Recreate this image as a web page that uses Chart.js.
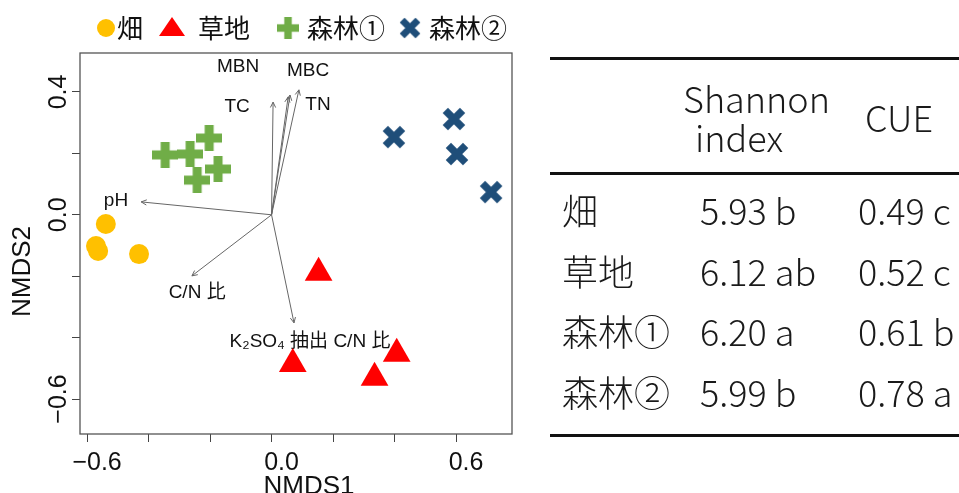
<!DOCTYPE html>
<html>
<head>
<meta charset="utf-8">
<script src="https://cdn.jsdelivr.net/npm/chart.js@4.4.1/dist/chart.umd.min.js"></script>
<style>
  html, body { margin: 0; padding: 0; background: #fff; width: 959px; height: 493px; overflow: hidden; }
  #wrap { position: absolute; left: 0; top: 0; width: 540px; height: 493px; }
  #tbl { position: absolute; left: 0; top: 0; width: 959px; height: 493px; pointer-events: none;
         font-family: "Noto Sans CJK JP", "Noto Sans", sans-serif; font-size: 36px; font-weight: 300; color: #1a1a1a; }
  .rule { position: absolute; left: 550px; width: 420px; height: 3px; background: #111; }
  .t { position: absolute; white-space: nowrap; line-height: 40px; height: 40px; }
</style>
</head>
<body>
<div id="wrap"><canvas id="nmds"></canvas></div>
<div id="tbl">
  <div class="rule" style="top:57px"></div>
  <div class="rule" style="top:172px"></div>
  <div class="rule" style="top:434px"></div>
</div>
<script>
// groups (legend / table rows)
const groups = ["畑", "草地", "森林①", "森林②"];

// NMDS site scores
const fieldX = [-0.539, -0.571, -0.564, -0.431];
const fieldY = [-0.030, -0.102, -0.118, -0.128];
const grassX = [0.153, 0.069, 0.335, 0.407];
const grassY = [-0.189, -0.486, -0.531, -0.453];
const forest1X = [-0.346, -0.265, -0.203, -0.174, -0.242];
const forest1Y = [0.195, 0.198, 0.250, 0.149, 0.113];
const forest2X = [0.398, 0.593, 0.603, 0.714];
const forest2Y = [0.253, 0.312, 0.198, 0.074];

// environmental vectors (arrow tips) and where their labels sit
const vecNames = ["pH", "TC", "MBN", "MBC", "TN", "C/N 比", "K₂SO₄ 抽出 C/N 比"];
const vecX = [-0.424, 0.005, 0.054, 0.060, 0.089, -0.259, 0.073];
const vecY = [0.042, 0.367, 0.384, 0.390, 0.407, -0.199, -0.352];
const labX = [-0.506, -0.112, -0.109, 0.119, 0.151, -0.242, 0.125];
const labY = [0.045, 0.351, 0.481, 0.468, 0.358, -0.255, -0.414];

// axis ticks
const xTicks = [-0.6, -0.4, -0.2, 0, 0.2, 0.4, 0.6];
const xLabeled = [-0.6, 0, 0.6];
const yTicks = [-0.6, -0.4, -0.2, 0, 0.2, 0.4];
const yLabeled = [-0.6, 0, 0.4];

// table
const shannonVal = [5.93, 6.12, 6.20, 5.99];
const shannonSig = ["b", "ab", "a", "b"];
const cueVal = [0.49, 0.52, 0.61, 0.78];
const cueSig = ["c", "c", "b", "a"];

const colors = ["#FFC000", "#FF0000", "#70AD47", "#1F4E79"];

function makePlus(size, thick, color) {
  const c = document.createElement("canvas");
  c.width = size; c.height = size;
  const g = c.getContext("2d");
  g.fillStyle = color;
  const o = (size - thick) / 2;
  g.fillRect(o, 0, thick, size);
  g.fillRect(0, o, size, thick);
  return c;
}

function makeCross(size, thick, color) {
  const c = document.createElement("canvas");
  c.width = size; c.height = size;
  const g = c.getContext("2d");
  g.strokeStyle = color;
  g.lineWidth = thick;
  const m = thick * 0.45;
  g.beginPath();
  g.moveTo(m, m); g.lineTo(size - m, size - m);
  g.moveTo(size - m, m); g.lineTo(m, size - m);
  g.stroke();
  return c;
}

const plusImg = makePlus(26, 9, colors[2]);
const crossImg = makeCross(24, 7.5, colors[3]);

const toPts = (xs, ys) => xs.map((x, i) => ({ x: x, y: ys[i] }));
const fmt = (v) => (v < 0 ? "\u2212" : "") + Math.abs(v).toFixed(1);

const decor = {
  id: "decor",
  beforeDatasetsDraw(chart) {
    const { ctx, chartArea: a, scales: { x, y } } = chart;
    ctx.save();
    ctx.strokeStyle = "#555";
    ctx.lineWidth = 1.3;
    ctx.strokeRect(a.left, a.top, a.right - a.left, a.bottom - a.top);

    // arrows
    const ox = x.getPixelForValue(0), oy = y.getPixelForValue(0);
    ctx.strokeStyle = "#666";
    ctx.lineWidth = 1;
    ctx.font = "19px 'Liberation Sans', 'DejaVu Sans', 'Noto Sans CJK JP'";
    ctx.textAlign = "center";
    ctx.textBaseline = "middle";
    vecNames.forEach((name, i) => {
      const tx = x.getPixelForValue(vecX[i]), ty = y.getPixelForValue(vecY[i]);
      const ang = Math.atan2(ty - oy, tx - ox);
      ctx.beginPath();
      ctx.moveTo(ox, oy);
      ctx.lineTo(tx, ty);
      [-1, 1].forEach((s) => {
        ctx.moveTo(tx, ty);
        ctx.lineTo(tx - 6 * Math.cos(ang + s * 0.45), ty - 6 * Math.sin(ang + s * 0.45));
      });
      ctx.stroke();
      ctx.fillStyle = "#111";
      ctx.fillText(name, x.getPixelForValue(labX[i]), y.getPixelForValue(labY[i]));
    });
    ctx.restore();
  },
  afterDraw(chart) {
    const { ctx, chartArea: a } = chart;
    ctx.save();
    ctx.fillStyle = "#111";
    ctx.font = "26px 'Liberation Sans'";
    ctx.textAlign = "center";
    ctx.textBaseline = "alphabetic";
    // axis titles
    ctx.fillText("NMDS1", (a.left + a.right) / 2 + 13, 494);
    ctx.translate(23, (a.top + a.bottom) / 2 + 28);
    ctx.rotate(-Math.PI / 2);
    ctx.textBaseline = "middle";
    ctx.fillText("NMDS2", 0, 0);
    ctx.restore();

    // legend
    ctx.save();
    const ly = 28;
    const ds = chart.data.datasets;
    ctx.fillStyle = colors[0];
    Chart.helpers.drawPoint(ctx, { pointStyle: "circle", radius: 9, rotation: 0, borderWidth: 0 }, 106, ly);
    ctx.fillStyle = colors[1];
    ctx.beginPath();
    ctx.moveTo(172, 17); ctx.lineTo(185, 36); ctx.lineTo(159, 36); ctx.closePath();
    ctx.fill();
    ctx.drawImage(plusImg, 277, 17, 22, 22);
    ctx.drawImage(crossImg, 399, 17, 22, 22);
    ctx.fillStyle = "#111";
    ctx.font = "26px 'Noto Sans CJK JP'";
    ctx.textAlign = "left";
    ctx.textBaseline = "middle";
    const textX = [117, 198, 307, 429];
    ds.forEach((d, i) => ctx.fillText(d.label, textX[i], ly));
    ctx.restore();
  }
};

new Chart(document.getElementById("nmds"), {
  type: "scatter",
  data: {
    datasets: [
      { label: groups[0], data: toPts(fieldX, fieldY), pointStyle: "circle", pointRadius: 10,
        backgroundColor: colors[0], borderWidth: 0 },
      { label: groups[1], data: toPts(grassX, grassY), pointStyle: "triangle", pointRadius: 16,
        backgroundColor: colors[1], borderWidth: 0 },
      { label: groups[2], data: toPts(forest1X, forest1Y), pointStyle: plusImg, pointRadius: 13,
        backgroundColor: colors[2], borderWidth: 0 },
      { label: groups[3], data: toPts(forest2X, forest2Y), pointStyle: crossImg, pointRadius: 12,
        backgroundColor: colors[3], borderWidth: 0 }
    ]
  },
  options: {
    responsive: true,
    maintainAspectRatio: false,
    animation: false,
    events: [],
    layout: { padding: { top: 53, right: 28, left: 0, bottom: 0 } },
    plugins: { legend: { display: false }, tooltip: { enabled: false } },
    scales: {
      x: {
        type: "linear",
        min: -0.623,
        max: 0.782,
        afterBuildTicks: (s) => { s.ticks = xTicks.map((v) => ({ value: v })); },
        afterFit: (s) => { s.height = 59; },
        grid: { drawOnChartArea: false, tickLength: 8, color: "#444" },
        border: { display: false },
        ticks: {
          padding: 6,
          labelOffset: 10,
          color: "#111",
          font: { family: "'Liberation Sans'", size: 25 },
          maxRotation: 0,
          autoSkip: false,
          callback: (v) => (xLabeled.some((t) => Math.abs(t - v) < 1e-6) ? fmt(v) : "")
        }
      },
      y: {
        type: "linear",
        min: -0.714,
        max: 0.527,
        afterBuildTicks: (s) => { s.ticks = yTicks.map((v) => ({ value: v })); },
        afterFit: (s) => { s.width = 80; },
        grid: { drawOnChartArea: false, tickLength: 8, color: "#444" },
        border: { display: false },
        ticks: {
          padding: -12,
          minRotation: 90,
          maxRotation: 90,
          crossAlign: "center",
          color: "#111",
          font: { family: "'Liberation Sans'", size: 25 },
          autoSkip: false,
          callback: (v) => (yLabeled.some((t) => Math.abs(t - v) < 1e-6) ? fmt(v) : "")
        }
      }
    }
  },
  plugins: [decor]
});

// table on the right
const tbl = document.getElementById("tbl");
function put(text, left, centerY) {
  const d = document.createElement("div");
  d.className = "t";
  d.textContent = text;
  d.style.left = left + "px";
  d.style.top = (centerY - 23) + "px";
  tbl.appendChild(d);
}
put("Shannon", 683, 100);
put("index", 695, 139);
put("CUE", 865, 119);
groups.forEach((g, i) => {
  const cy = 212 + i * 60.5;
  put(g, 562, cy);
  put(shannonVal[i].toFixed(2) + " " + shannonSig[i], 700, cy);
  put(cueVal[i].toFixed(2) + " " + cueSig[i], 858, cy);
});
</script>
</body>
</html>
